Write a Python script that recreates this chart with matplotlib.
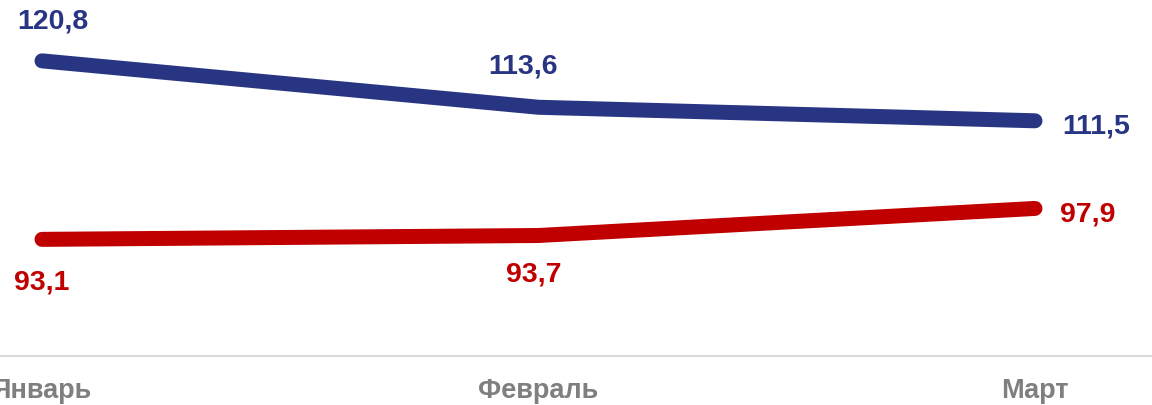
import matplotlib.pyplot as plt

plt.rcParams["font.family"] = ["Liberation Sans", "DejaVu Sans"]

months = ["Январь", "Февраль", "Март"]
blue_values = [120.8, 113.6, 111.5]
red_values = [93.1, 93.7, 97.9]
blue_labels = ["120,8", "113,6", "111,5"]
red_labels = ["93,1", "93,7", "97,9"]

BLUE = "#283583"
RED = "#C00000"
GRAY = "#7F7F7F"

fig = plt.figure(figsize=(11.52, 4.06), dpi=100)
ax = fig.add_axes([0, 49 / 406, 1, 357 / 406])

x = list(range(len(months)))
for vals, color in [(blue_values, BLUE), (red_values, RED)]:
    ax.plot(x, vals, color=color, lw=10.8, solid_capstyle="round",
            solid_joinstyle="round")

# label offsets in pixels (dx, dy, ha)
blue_off = [(11, 40, "center"), (-15, 42, "center"), (27, -5, "left")]
red_off = [(0, -42, "center"), (-5, -38, "center"), (25, -5, "left")]
for vals, labels, offs, color in [(blue_values, blue_labels, blue_off, BLUE),
                                  (red_values, red_labels, red_off, RED)]:
    for xi, v, lab, (dx, dy, ha) in zip(x, vals, labels, offs):
        ax.annotate(lab, (xi, v), xytext=(dx, dy), textcoords="offset pixels",
                    ha=ha, va="center", fontsize=20.5, fontweight="bold",
                    color=color)

ax.set_xlim(-42 / 496.5, 2 + 117 / 496.5)
ax.set_ylim(75, 130.4)
for s in ["top", "right", "left"]:
    ax.spines[s].set_visible(False)
ax.spines["bottom"].set_color("#D9D9D9")
ax.spines["bottom"].set_linewidth(1.5)
ax.set_yticks([])
ax.set_xticks(x)
ax.set_xticklabels(months, fontsize=19.5, fontweight="bold", color=GRAY)
ax.tick_params(axis="x", length=0, pad=15)

fig.savefig("out.png", dpi=100)
